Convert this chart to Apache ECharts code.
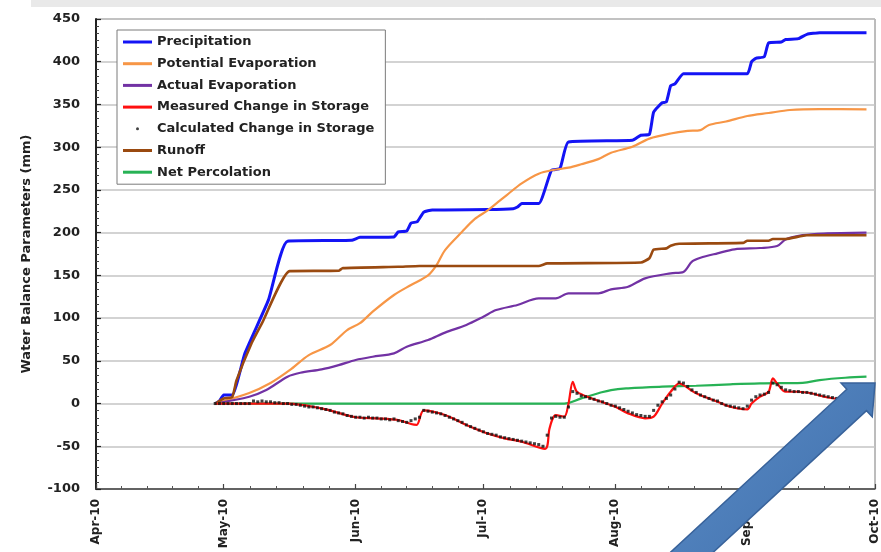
<!DOCTYPE html>
<html>
<head>
<meta charset="utf-8">
<script src="https://cdn.jsdelivr.net/npm/echarts@6/dist/echarts.min.js"></script>
<style>
html,body{margin:0;padding:0;background:#fff;}
#chart{width:881px;height:552px;}
</style>
</head>
<body>
<div id="chart"></div>
<script>
// ---------- data ----------
const seriesNames = ['Precipitation','Potential Evaporation','Actual Evaporation','Measured Change in Storage','Calculated Change in Storage','Runoff','Net Percolation'];
const tickLabels = ['Apr-10','May-10','Jun-10','Jul-10','Aug-10','Sep-10','Oct-10'];
const yTicks = {min:-100, max:450, step:50};

const precipitation = [
 ['2010-04-29',0],['2010-04-30',3],['2010-05-01',10],['2010-05-03',10],['2010-05-06',59],['2010-05-11 12:00',121],
 ['2010-05-16',190],['2010-05-31',191],['2010-06-02',194.5],['2010-06-10',195],['2010-06-11',201],['2010-06-13',202],
 ['2010-06-14',211],['2010-06-15 12:00',213],['2010-06-17',224],['2010-06-19',226.5],['2010-07-02',227],['2010-07-08',228],
 ['2010-07-09',230],['2010-07-10',234],['2010-07-14',234],['2010-07-17',273],['2010-07-19',275],['2010-07-21',306],
 ['2010-08-05',308],['2010-08-07',314],['2010-08-09',315],['2010-08-10',341],['2010-08-12',352],['2010-08-13',353],
 ['2010-08-14',372],['2010-08-15',374],['2010-08-17',386],['2010-09-01',386],['2010-09-02',400],['2010-09-03',404],
 ['2010-09-05',406],['2010-09-06',422],['2010-09-09',423],['2010-09-10',426],['2010-09-13',427],['2010-09-15',432],
 ['2010-09-18',434],['2010-09-29',434]
];
const potentialEvaporation = [
 ['2010-04-29',0],['2010-05-07',12.3],['2010-05-12',24],['2010-05-16 12:00',39],['2010-05-21',56.7],['2010-05-26',68.5],
 ['2010-05-30',86],['2010-06-02',94],['2010-06-05',107.5],['2010-06-10',127],['2010-06-14',138.7],['2010-06-18',150],
 ['2010-06-20',162],['2010-06-22',179.6],['2010-06-26',201],['2010-06-29',216],['2010-07-02',226],['2010-07-05',238],
 ['2010-07-06 12:00',244],['2010-07-10',257.7],['2010-07-14',269],['2010-07-17',273],['2010-07-21',276],['2010-07-24',280],
 ['2010-07-28',286],['2010-07-31',293.5],['2010-08-05',300.5],['2010-08-09',310],['2010-08-14',316],['2010-08-18',319],
 ['2010-08-21',320],['2010-08-23',326],['2010-08-27',330],['2010-09-01',336.5],['2010-09-06',340],['2010-09-11',343.5],
 ['2010-09-18',344.6],['2010-09-29',344.3]
];
const actualEvaporation = [
 ['2010-04-29',0],['2010-05-07',8],['2010-05-11',15.8],['2010-05-16',31.4],['2010-05-19',36],['2010-05-24',40],
 ['2010-05-28',45],['2010-06-01',51],['2010-06-05',54.8],['2010-06-10',58.7],['2010-06-13',66.5],['2010-06-18',74.3],
 ['2010-06-22',83],['2010-06-27',92],['2010-07-01',101.6],['2010-07-04',109.4],['2010-07-09',115.3],['2010-07-14',123],
 ['2010-07-18',123],['2010-07-21',129],['2010-07-28',129],['2010-07-31',133.6],['2010-08-04',136.7],['2010-08-08',146.5],
 ['2010-08-14',152.4],['2010-08-17',154],['2010-08-19',166],['2010-08-21',170.6],['2010-08-25',175.8],['2010-08-29',180.5],
 ['2010-09-04',182],['2010-09-08',184.3],['2010-09-10',192],['2010-09-14',197],['2010-09-19',199],['2010-09-29',200]
];
const measuredStorage = [
 ['2010-04-29',0],['2010-05-08',0],['2010-05-16',0],['2010-05-24',-5.6],['2010-06-01',-16],['2010-06-06',-17.3],
 ['2010-06-11',-19.3],['2010-06-14',-24],['2010-06-15 08:00',-25],['2010-06-17',-8],['2010-06-22',-13.5],['2010-06-27',-25],
 ['2010-07-02',-35],['2010-07-06',-40.7],['2010-07-10',-44.7],['2010-07-15 12:00',-53],['2010-07-16 12:00',-30],
 ['2010-07-17 06:00',-18],['2010-07-18',-13.5],['2010-07-20',-15.4],['2010-07-21',0],['2010-07-22',25.5],['2010-07-23',13.8],
 ['2010-07-26 12:00',6],['2010-08-01',-3.7],['2010-08-04',-11.5],['2010-08-08',-17.3],['2010-08-10',-15.4],['2010-08-12',0],
 ['2010-08-14',13.8],['2010-08-16',23.6],['2010-08-17',21.6],['2010-08-20',12],['2010-08-25',2],['2010-08-28',-3.7],
 ['2010-09-01',-6.8],['2010-09-02',0],['2010-09-04',8],['2010-09-06',13.8],['2010-09-07',29.5],['2010-09-08',23.6],
 ['2010-09-10',13.8],['2010-09-13',13.8],['2010-09-16',12],['2010-09-19',8],['2010-09-23',5],['2010-09-29',3]
];
// daily values starting 2010-04-29
const calculatedStart = [2010, 3, 29];
const calculatedStorage = [
 0,0,
 0,0,0,0,0,0,0,3,2,3,2,2,1,1,0,0,-1,-1,-2,-3,-4,-4,-5,-6,-7,-8,-10,-11,-12,-14,-15,
 -16,-16,-17,-16,-17,-17,-18,-18,-19,-18,-20,-21,-22,-20,-18,-16,-8,-9,-10,-11,-12,-14,-16,-18,-20,-22,-25,-27,-29,-31,
 -33,-35,-36,-37,-39,-40,-41,-42,-43,-44,-45,-46,-47,-48,-50,-37,-17,-15,-16,-16,-4,14,12,9,8,6,5,3,2,0,-2,
 -3,-5,-7,-9,-11,-13,-14,-15,-15,-8,-2,2,6,10,17,25,24,20,16,13,10,8,6,4,3,0,-2,-3,-4,-5,-6,
 -3,4,8,10,11,13,24,22,19,16,15,14,14,13,13,12,11,10,9,8,7,6,5,5
];
const runoff = [
 ['2010-04-29',0],['2010-05-01',6],['2010-05-03',7.6],['2010-05-04',27],['2010-05-07 12:00',70],['2010-05-10',94],
 ['2010-05-16 12:00',155],['2010-05-28',155.4],['2010-05-29',158.5],['2010-06-11',160],['2010-06-16',161],['2010-07-14',161],
 ['2010-07-16',164],['2010-08-07',165],['2010-08-09',170],['2010-08-10',180],['2010-08-13',181.6],['2010-08-14',184.7],
 ['2010-08-16',187],['2010-08-31',188],['2010-09-01',190.5],['2010-09-06',190.5],['2010-09-07',192.5],['2010-09-10',192.5],
 ['2010-09-15',197],['2010-09-29',197]
];
const netPercolation = [
 ['2010-04-29',0],['2010-07-20',0],['2010-07-24',6],['2010-07-28',12],['2010-07-31',15.8],['2010-08-04',17.8],
 ['2010-08-12',19.7],['2010-08-20',20.8],['2010-08-28',22.5],['2010-09-04',23.6],['2010-09-14',24.3],['2010-09-18',27.5],
 ['2010-09-24',30.2],['2010-09-29',31.4]
];

// ---------- chart ----------
const FONT = 'DejaVu Sans';
const calcData = calculatedStorage.map((v, i) =>
  [new Date(calculatedStart[0], calculatedStart[1], calculatedStart[2] + i).getTime(), v]);

function lineSeries(name, data, color, width, smooth, z) {
  return { name, type:'line', data, symbol:'none', showSymbol:false, smooth, z,
    lineStyle:{color, width}, itemStyle:{color}, emphasis:{disabled:true} };
}

// decorative arrow overlay (annotation in the reference)
const tip = [875, 383], tail = [677, 566];
const dl = Math.hypot(tip[0]-tail[0], tip[1]-tail[1]);
const d = [(tip[0]-tail[0])/dl, (tip[1]-tail[1])/dl];
const n = [-d[1], d[0]];
const hw = 14.5, HW = 23, HL = 25;
const base = [tip[0]-d[0]*HL, tip[1]-d[1]*HL];
const P = (p, k) => [p[0]+n[0]*k, p[1]+n[1]*k];
const arrowPts = [P(tail,-hw), P(base,-hw), P(base,-HW), tip, P(base,HW), P(base,hw), P(tail,hw)];

const legendData = seriesNames.map(nm => ({ name:nm, icon: nm === seriesNames[4] ? 'circle' : 'rect' }));

const chart = echarts.init(document.getElementById('chart'), null, {renderer:'canvas'});
chart.setOption({
  animation:false,
  textStyle:{fontFamily:FONT},
  grid:{left:96, right:6, top:19, bottom:63, show:true, borderColor:'#7a7a7a', borderWidth:1},
  legend:{
    orient:'vertical', left:117, top:30, padding:[4,11,4,6], itemGap:5.7,
    itemWidth:29, itemHeight:3, borderColor:'#7a7a7a', borderWidth:1, backgroundColor:'#fff',
    textStyle:{fontFamily:FONT, fontWeight:'bold', fontSize:13, color:'#222', lineHeight:16},
    data:legendData, selectedMode:false
  },
  xAxis:{
    type:'time', min:'2010-04-01', max:'2010-10-01', splitNumber:6,
    minInterval:28*86400000, maxInterval:31*86400000,
    axisLine:{show:true, onZero:false, lineStyle:{color:'#444', width:1.5}},
    axisTick:{show:true, inside:true, length:5, lineStyle:{color:'#444', width:1.2}},
    minorTick:{show:true, splitNumber:5, length:3, lineStyle:{color:'#555', width:1}},
    splitLine:{show:false},
    axisLabel:{rotate:90, margin:10, fontFamily:FONT, fontSize:12, fontWeight:'bold', color:'#222',
      showMinLabel:true, showMaxLabel:true, hideOverlap:false,
      formatter:(v)=>tickLabels[new Date(v).getMonth()-3]}
  },
  yAxis:{
    type:'value', min:yTicks.min, max:yTicks.max, interval:yTicks.step,
    name:'Water Balance Parameters (mm)', nameLocation:'middle', nameGap:63, nameRotate:90,
    nameTextStyle:{fontFamily:FONT, fontWeight:'bold', fontSize:13, color:'#222'},
    axisLine:{show:true, onZero:false, lineStyle:{color:'#222', width:2}},
    axisTick:{show:true, inside:true, length:5, lineStyle:{color:'#222', width:1.2}},
    minorTick:{show:true, splitNumber:6, length:3, lineStyle:{color:'#444', width:1}},
    splitLine:{show:true, lineStyle:{color:'#c4c4c4', width:1.5}},
    axisLabel:{margin:16, fontFamily:FONT, fontSize:13, fontWeight:'bold', color:'#222'}
  },
  series:[
    lineSeries(seriesNames[0], precipitation, '#1414f5', 3, 0.15, 2),
    lineSeries(seriesNames[1], potentialEvaporation, '#f79646', 2.2, 0.3, 2),
    lineSeries(seriesNames[2], actualEvaporation, '#7232a4', 2.2, 0.3, 2),
    lineSeries(seriesNames[5], runoff, '#9a4a10', 2.6, 0.15, 2),
    lineSeries(seriesNames[6], netPercolation, '#27b255', 2.2, 0.4, 2),
    lineSeries(seriesNames[3], measuredStorage, '#ff1010', 2.2, 0.3, 3),
    { name:seriesNames[4], type:'scatter', data:calcData, symbol:'rect', symbolSize:3, z:4,
      itemStyle:{color:'#111'}, emphasis:{disabled:true} }
  ],
  graphic:[
    { type:'rect', shape:{x:31, y:0, width:850, height:7}, style:{fill:'#e9e9e9'}, silent:true, z:100 },
    { type:'polygon', shape:{points:arrowPts}, z:100, silent:true,
      style:{ fill:new echarts.graphic.LinearGradient(0,0,1,1,[{offset:0,color:'#5a8cc8'},{offset:1,color:'#3f6ea9'}]),
              stroke:'#38629a', lineWidth:1.5 } }
  ]
});
</script>
</body>
</html>
